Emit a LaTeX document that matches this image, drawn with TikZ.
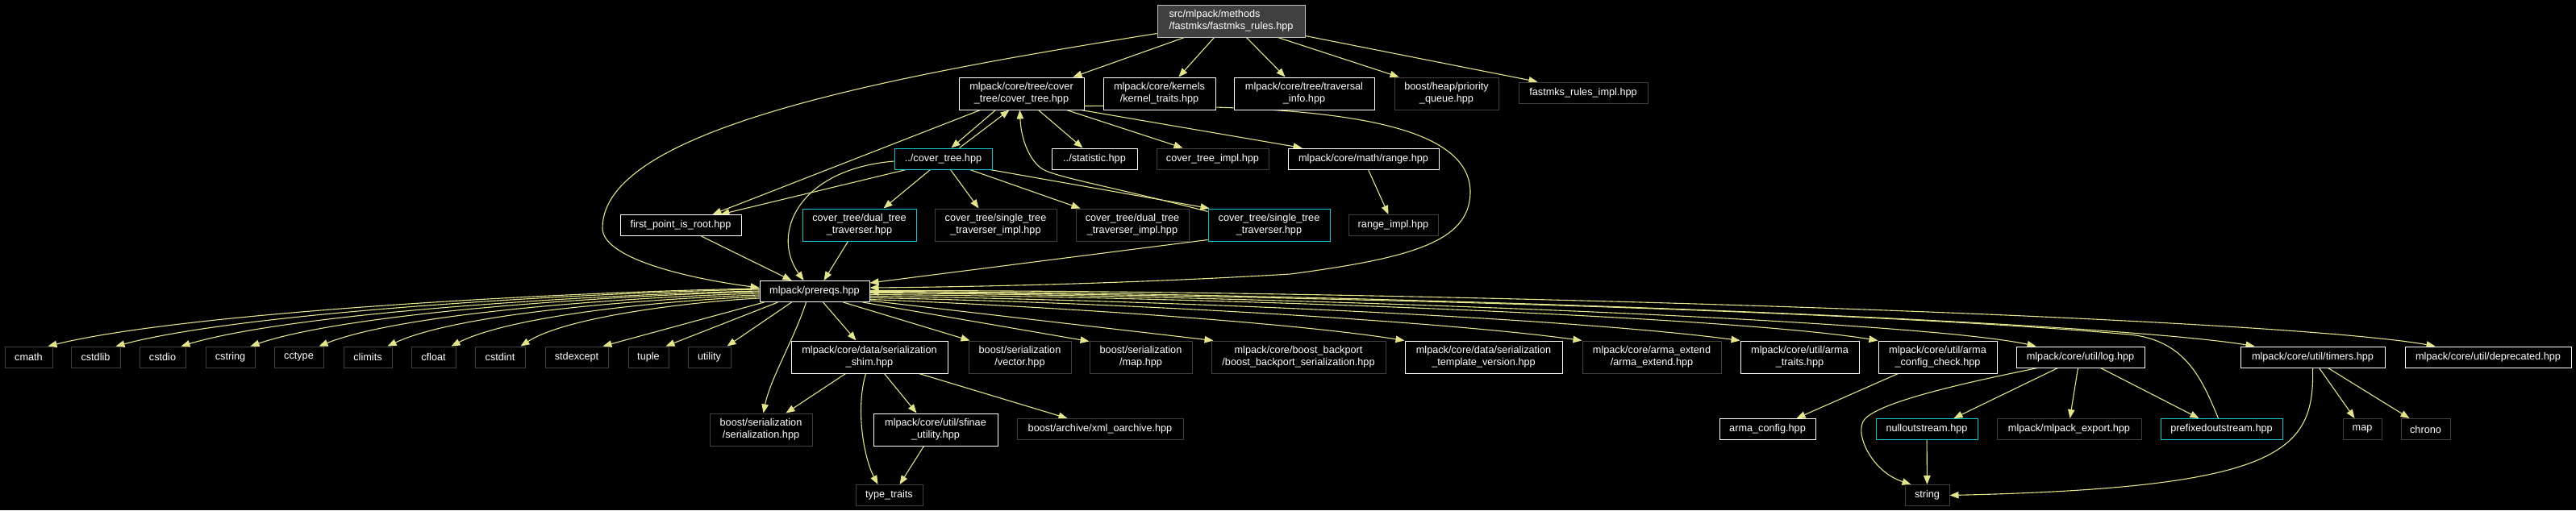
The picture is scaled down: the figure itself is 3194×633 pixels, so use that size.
\documentclass[tikz,border=0pt]{standalone}
\usepackage{fontspec}
\setmainfont{Liberation Sans}
\usetikzlibrary{arrows.meta,calc}
\definecolor{edgec}{RGB}{228,228,140}
\definecolor{grayb}{RGB}{64,64,64}
\definecolor{cyanb}{RGB}{20,200,210}
\definecolor{topfill}{RGB}{64,64,64}
\definecolor{topline}{RGB}{190,190,190}
\definecolor{shadowc}{RGB}{170,170,170}
\pgfdeclarelayer{background}
\pgfsetlayers{background,main}
\begin{document}
\begin{tikzpicture}[x=1pt,y=-1pt,
  nd/.style={fill=black, text=white, font=\fontsize{12.7}{15}\selectfont, inner sep=0pt, line width=1pt, align=center},
  wb/.style={nd, draw=white},
  gb/.style={nd, draw=grayb},
  cb/.style={nd, draw=cyanb},
  tb/.style={nd, draw=topline, fill=topfill},
  bx/.style 2 args={minimum width=#1pt, minimum height=#2pt},
  lk/.style={draw=edgec, line width=1.1pt, -{Triangle[length=11pt,width=8.5pt]}}]
\useasboundingbox (0,0) rectangle (3194,633);
% row 0
\node[tb, bx={183}{40}, align=left] (top) at (1526.5,26) {src/mlpack/methods\\/fastmks/fastmks\_rules.hpp};
% row 1
\node[wb, bx={155}{40}] (ct) at (1266.5,116) {mlpack/core/tree/cover\\\_tree/cover\_tree.hpp};
\node[wb, bx={139}{40}] (kt) at (1437.5,116) {mlpack/core/kernels\\/kernel\_traits.hpp};
\node[wb, bx={174}{40}] (ti) at (1617,116) {mlpack/core/tree/traversal\\\_info.hpp};
\node[gb, bx={129}{40}] (pq) at (1793.5,116) {boost/heap/priority\\\_queue.hpp};
\node[gb, bx={160}{26}] (fri) at (1963,115) {fastmks\_rules\_impl.hpp};
% row 2
\node[cb, bx={121}{26}] (cth) at (1169.5,197) {../cover\_tree.hpp};
\node[wb, bx={106}{26}] (stat) at (1357,197) {../statistic.hpp};
\node[gb, bx={139}{26}] (cti) at (1503.5,197) {cover\_tree\_impl.hpp};
\node[wb, bx={187}{26}] (range) at (1690.5,197) {mlpack/core/math/range.hpp};
% row 3
\node[wb, bx={150}{26}] (fpr) at (844,279.5) {first\_point\_is\_root.hpp};
\node[cb, bx={141}{40}] (dtt) at (1065.5,279) {cover\_tree/dual\_tree\\\_traverser.hpp};
\node[gb, bx={151}{40}] (stti) at (1234.5,279) {cover\_tree/single\_tree\\\_traverser\_impl.hpp};
\node[gb, bx={140}{40}] (dtti) at (1404,279) {cover\_tree/dual\_tree\\\_traverser\_impl.hpp};
\node[cb, bx={151}{40}] (stt) at (1573.5,279) {cover\_tree/single\_tree\\\_traverser.hpp};
\node[gb, bx={111}{26}] (ri) at (1727.5,279.5) {range\_impl.hpp};
% row 4
\node[wb, bx={136}{26}] (pre) at (1010,361.5) {mlpack/prereqs.hpp};
% row 5
\node[gb, bx={59}{26}] (cmath) at (35.5,443) {cmath};
\node[gb, bx={61}{26}] (cstdlib) at (118.5,443) {cstdlib};
\node[gb, bx={57}{26}] (cstdio) at (201.5,443) {cstdio};
\node[gb, bx={61}{26}] (cstring) at (285.5,443) {cstring};
\node[gb, bx={61}{26}] (cctype) at (370.5,443) {cctype};
\node[gb, bx={60}{26}] (climits) at (456,443) {climits};
\node[gb, bx={55}{26}] (cfloat) at (537.5,443) {cfloat};
\node[gb, bx={62}{26}] (cstdint) at (620,443) {cstdint};
\node[gb, bx={78}{26}] (stdexcept) at (715,443) {stdexcept};
\node[gb, bx={50}{26}] (tuple) at (804,443) {tuple};
\node[gb, bx={53}{26}] (utility) at (879.5,443) {utility};
\node[wb, bx={194}{40}] (shim) at (1078,443) {mlpack/core/data/serialization\\\_shim.hpp};
\node[gb, bx={127}{40}] (vec) at (1264.5,443) {boost/serialization\\/vector.hpp};
\node[gb, bx={127}{40}] (mapser) at (1414.5,443) {boost/serialization\\/map.hpp};
\node[gb, bx={216}{40}] (backport) at (1610,443) {mlpack/core/boost\_backport\\/boost\_backport\_serialization.hpp};
\node[wb, bx={195}{40}] (tv) at (1839.5,443) {mlpack/core/data/serialization\\\_template\_version.hpp};
\node[gb, bx={172}{40}] (ae) at (2048,443) {mlpack/core/arma\_extend\\/arma\_extend.hpp};
\node[wb, bx={147}{40}] (atr) at (2231.5,443) {mlpack/core/util/arma\\\_traits.hpp};
\node[wb, bx={147}{40}] (acc) at (2402.5,443) {mlpack/core/util/arma\\\_config\_check.hpp};
\node[wb, bx={159}{26}] (log) at (2579.5,443) {mlpack/core/util/log.hpp};
\node[wb, bx={179}{26}] (timers) at (2867.5,443) {mlpack/core/util/timers.hpp};
\node[wb, bx={206}{26}] (dep) at (3085,443) {mlpack/core/util/deprecated.hpp};
% row 6
\node[gb, bx={127}{40}] (ser) at (943.5,533) {boost/serialization\\/serialization.hpp};
\node[wb, bx={154}{40}] (sfinae) at (1160,533) {mlpack/core/util/sfinae\\\_utility.hpp};
\node[gb, bx={206}{26}] (xml) at (1364,532.5) {boost/archive/xml\_oarchive.hpp};
\node[wb, bx={119}{26}] (ac) at (2191.5,532.5) {arma\_config.hpp};
\node[cb, bx={126}{26}] (nos) at (2389,532.5) {nulloutstream.hpp};
\node[gb, bx={179}{26}] (exp) at (2565.5,532.5) {mlpack/mlpack\_export.hpp};
\node[cb, bx={151}{26}] (pos) at (2754.5,532.5) {prefixedoutstream.hpp};
\node[gb, bx={48}{26}] (map) at (2929,532.5) {map};
\node[gb, bx={61}{26}] (chrono) at (3007.5,532.5) {chrono};
% row 7
\node[gb, bx={83}{26}] (tt) at (1102.5,614.5) {type\_traits};
\node[gb, bx={55}{26}] (str) at (2389.5,614.5) {string};

\begin{pgfonlayer}{background}
\fill[black] (0,0) rectangle (3194,633);
% from top
\draw[lk] ($(top.south west)+(34,0)$) -- ($(ct.north east)+(-14,0)$);
\draw[lk] ($(top.south west)+(71,0)$) -- ($(kt.north west)+(94,0)$);
\draw[lk] ($(top.south west)+(111,0)$) -- ($(ti.north west)+(64,0)$);
\draw[lk] ($(top.south west)+(150,0)$) -- ($(pq.north west)+(6,0)$);
\draw[lk] ($(top.south east)+(0,-2)$) -- ($(fri.north west)+(24,0)$);
\draw[lk] ($(top.south west)+(0,-5)$) .. controls (1100,95) and (747,160) .. (747,283) .. controls (747,320) and (850,345) .. ($(pre.west)+(0,-4.5)$);
% from cover_tree.hpp
\draw[lk] ($(ct.south west)+(27,0)$) -- ($(fpr.north east)+(-36,0)$);
\draw[lk] ($(ct.south west)+(46,0)$) -- ($(cth.north west)+(71,0)$);
\draw[lk] ($(cth.north west)+(81,0)$) -- ($(ct.south west)+(63,0)$);
\draw[lk] ($(stt.north west)+(0,4)$) .. controls (1380,232) and (1310,220) .. (1293,210) .. controls (1278,201) and (1266,175) .. ($(ct.south west)+(76,0)$);
\draw[lk] ($(ct.south west)+(99,0)$) -- ($(stat.north west)+(39,0)$);
\draw[lk] ($(ct.south west)+(134,0)$) -- ($(cti.north west)+(33,0)$);
\draw[lk] ($(ct.south east)+(-4,0)$) -- ($(range.north west)+(18,0)$);
\draw[lk] ($(ct.south east)+(0,-5)$) .. controls (1600,130) and (1825,140) .. (1823,240) .. controls (1821,300) and (1750,320) .. (1600,340) .. controls (1400,352) and (1200,356) .. ($(pre.east)+(0,-4.5)$);
% from ../cover_tree.hpp
\draw[lk] ($(cth.south west)+(15,0)$) -- ($(fpr.north east)+(-26,0)$);
\draw[lk] ($(cth.south west)+(45,0)$) -- ($(dtt.north west)+(101,0)$);
\draw[lk] ($(cth.south west)+(70,0)$) -- ($(stti.north west)+(55,0)$);
\draw[lk] ($(cth.south west)+(94,0)$) -- ($(dtti.north west)+(6,0)$);
\draw[lk] ($(cth.south east)+(-3,0)$) -- ($(stt.north west)+(2,0)$);
\draw[lk] ($(cth.west)+(0,3)$) .. controls (990,210) and (955,290) .. ($(pre.north west)+(55,0)$);
% into prereqs
\draw[lk] ($(fpr.south west)+(101,0)$) -- ($(pre.north west)+(40,0)$);
\draw[lk] ($(dtt.south west)+(57,0)$) -- ($(pre.north west)+(80,0)$);
\draw[lk] ($(stt.south west)+(0,-2)$) -- ($(pre.north east)+(0,3)$);
\draw[lk] ($(range.south west)+(100,0)$) -- ($(ri.north west)+(50,0)$);
\draw[lk] ($(pos.north)+(-4,0)$) .. controls (2730,470) and (2710,422) .. (2640,415) .. controls (2300,385) and (1600,366) .. ($(pre.east)+(0,1)$);
% prereqs left fan
\draw[lk] ($(pre.west)+(0,-3.5)$) .. controls (703,362) and (233,387) .. ($(cmath.north east)+(-6,0)$);
\draw[lk] ($(pre.west)+(0,-2.5)$) .. controls (727,363) and (304,387) .. ($(cstdlib.north east)+(-6,0)$);
\draw[lk] ($(pre.west)+(0,-0.5)$) .. controls (748,365) and (368,387) .. ($(cstdio.north east)+(-6,0)$);
\draw[lk] ($(pre.west)+(0,0.5)$) .. controls (771,366) and (436,387) .. ($(cstring.north east)+(-6,0)$);
\draw[lk] ($(pre.west)+(0,2.5)$) .. controls (794,368) and (503,387) .. ($(cctype.north east)+(-6,0)$);
\draw[lk] ($(pre.west)+(0,4.5)$) .. controls (817,370) and (572,387) .. ($(climits.north east)+(-6,0)$);
\draw[lk] ($(pre.west)+(0,6.5)$) .. controls (839,372) and (637,390) .. ($(cfloat.north east)+(-6,0)$);
\draw[lk] ($(pre.west)+(0,8.5)$) .. controls (862,374) and (704,392) .. ($(cstdint.north east)+(-6,0)$);
\draw[lk] ($(pre.south west)+(6,0)$) -- ($(stdexcept.north east)+(-7,0)$);
\draw[lk] ($(pre.south west)+(23,0)$) -- ($(tuple.north east)+(-4,0)$);
\draw[lk] ($(pre.south west)+(40,0)$) -- ($(utility.north east)+(-5,0)$);
% prereqs down and right
\draw[lk] ($(pre.south west)+(58,0)$) .. controls (985,420) and (955,470) .. ($(ser.north west)+(67,0)$);
\draw[lk] ($(pre.south west)+(79,0)$) -- ($(shim.north west)+(81,0)$);
\draw[lk] ($(pre.south west)+(104,0)$) -- ($(vec.north west)+(2,0)$);
\draw[lk] ($(pre.south west)+(128,0)$) -- ($(mapser.north west)+(0,1)$);
\draw[lk] ($(pre.south east)+(0,-2)$) -- ($(backport.north west)+(3,0)$);
\draw[lk] ($(pre.east)+(0,10)$) .. controls (1300,380) and (1600,400) .. ($(tv.north west)+(0,0)$);
\draw[lk] ($(pre.east)+(0,8)$) .. controls (1400,375) and (1800,400) .. ($(ae.north west)+(0,0)$);
\draw[lk] ($(pre.east)+(0,6)$) .. controls (1450,372) and (1950,395) .. ($(atr.north west)+(0,0)$);
\draw[lk] ($(pre.east)+(0,4)$) .. controls (1500,368) and (2150,393) .. ($(acc.north west)+(0,0)$);
\draw[lk] ($(pre.east)+(0,2)$) .. controls (1550,366) and (2370,396) .. ($(log.north west)+(25,0)$);
\draw[lk] ($(pre.east)+(0,0)$) .. controls (1700,363) and (2600,398) .. ($(timers.north west)+(18,0)$);
\draw[lk] ($(pre.east)+(0,-1)$) .. controls (1800,360) and (2826,395) .. ($(dep.north west)+(38,0)$);
% serialization shim
\draw[lk] ($(shim.south west)+(68,0)$) -- ($(ser.north west)+(95,0)$);
\draw[lk] ($(shim.south west)+(93,0)$) .. controls (1060,510) and (1072,570) .. ($(tt.north west)+(28,0)$);
\draw[lk] ($(shim.south west)+(116,0)$) -- ($(sfinae.north west)+(54,0)$);
\draw[lk] ($(shim.south west)+(159,0)$) -- ($(xml.north west)+(63,0)$);
\draw[lk] ($(sfinae.south west)+(63,0)$) -- ($(tt.north west)+(55,0)$);
% arma config check
\draw[lk] ($(acc.south west)+(25,0)$) -- ($(ac.north west)+(96,0)$);
% log
\draw[lk] ($(log.south west)+(27,0)$) .. controls (2420,478) and (2330,500) .. (2312,520) .. controls (2298,536) and (2320,585) .. ($(str.north west)+(8,0)$);
\draw[lk] ($(log.south west)+(52,0)$) -- ($(nos.north west)+(97,0)$);
\draw[lk] ($(log.south west)+(77,0)$) -- ($(exp.north west)+(91,0)$);
\draw[lk] ($(log.south west)+(105,0)$) -- ($(pos.north west)+(48,0)$);
\draw[lk] (nos) -- (str);
% timers
\draw[lk] ($(timers.south west)+(90,0)$) .. controls (2870,560) and (2830,605) .. (str.east);
\draw[lk] ($(timers.south west)+(98,0)$) -- ($(map.north west)+(15,0)$);
\draw[lk] ($(timers.south west)+(109,0)$) -- ($(chrono.north west)+(11,0)$);
\end{pgfonlayer}
\end{tikzpicture}
\end{document}
